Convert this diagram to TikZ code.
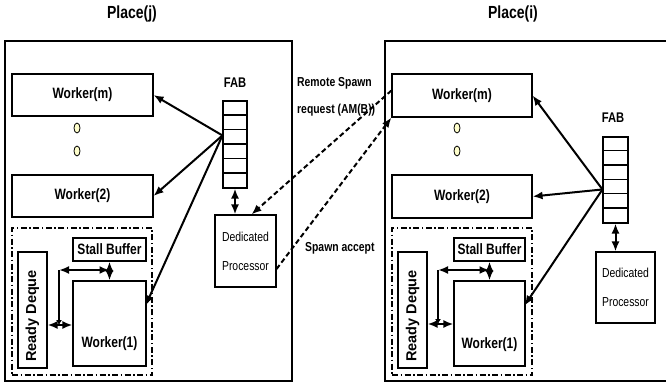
\documentclass[tikz,border=0pt]{standalone}
\usepackage{fontspec}
\setmainfont{Liberation Sans}
\newfontfamily\narrowsf[FakeStretch=0.8]{Liberation Sans}
\usepackage{tikz}
\usetikzlibrary{shapes,shapes.geometric,arrows.meta,positioning,calc}
\definecolor{dotfill}{RGB}{255,255,204}
\tikzset{
  % Place enclosure and its title
  placebox/.style={draw, rectangle, line width=1.1pt, inner sep=0pt},
  placelbl/.style={font=\narrowsf\bfseries\fontsize{17.5}{20}\selectfont, inner sep=0pt},
  % Worker boxes
  wbox/.style={draw, fill=white, rectangle, line width=1.1pt, inner sep=0pt,
               font=\narrowsf\bfseries\fontsize{15}{18}\selectfont},
  wtext/.style={font=\narrowsf\bfseries\fontsize{15}{18}\selectfont, inner sep=0pt},
  sbbox/.style={wbox},
  rdbox/.style={draw, fill=white, rectangle, line width=1.1pt, inner sep=0pt,
                font=\bfseries\fontsize{14.5}{17}\selectfont},
  % Worker pool: dash-dot enclosure
  pool/.style={draw, rectangle, line width=1.8pt, inner sep=0pt,
               dash pattern=on 6pt off 2.5pt on 1.5pt off 2.5pt},
  % FAB queue and dedicated processor
  fabbox/.style={draw, fill=white, rectangle, line width=1.1pt, inner sep=0pt},
  fabcell/.style={line width=1.3pt},
  fablbl/.style={font=\narrowsf\bfseries\fontsize{14}{16}\selectfont, inner sep=0pt},
  dpbox/.style={draw, fill=white, rectangle, line width=1.1pt, inner sep=0pt, align=center,
                font=\narrowsf\fontsize{13}{29}\selectfont},
  % Idle dots
  dotell/.style={draw, ellipse, fill=dotfill, minimum width=6pt, minimum height=10pt,
                 inner sep=0pt, line width=0.8pt},
  % Arrows
  flowarr/.style={-{Latex[length=10pt,width=8pt]}, line width=2pt},
  flowbi/.style={{Latex[length=10pt,width=8pt]}-{Latex[length=10pt,width=8pt]}, line width=2pt},
  flowsm/.style={-{Latex[length=5pt,width=6pt]}, line width=1.6pt},
  msgarr/.style={-{Latex[length=10pt,width=8pt]}, line width=2pt, dash pattern=on 5pt off 3pt},
  msglbl/.style={font=\narrowsf\bfseries\fontsize{13}{15}\selectfont, inner sep=0pt, anchor=west}
}

\begin{document}
\begin{tikzpicture}[x=1pt, y=-1pt]
\useasboundingbox (0,0) rectangle (666,388);

% ============== LEFT: PLACE(j) ==============
\node[placelbl] (jlbl) at (132,14) {Place(j)};
\node[placebox, minimum width=287pt, minimum height=340pt] (jplace) at (148.5,211) {};

\node[wbox, minimum width=141pt, minimum height=42pt] (jWm) at (82.5,95) {Worker(m)};
\node[dotell] (jdot1) at (77,128) {};
\node[dotell] (jdot2) at (77,151) {};
\node[wbox, minimum width=141pt, minimum height=42pt] (jW2) at (82.5,196) {Worker(2)};

\node[pool, minimum width=140pt, minimum height=147pt] (jpool) at (82,301.5) {};
\node[rdbox, minimum width=29pt, minimum height=116pt] (jrd) at (32.5,310) {\rotatebox{90}{Ready Deque\hspace{12pt}}};
\node[sbbox, minimum width=73pt, minimum height=23pt] (jsb) at (109.5,249.5) {Stall Buffer};
\node[wbox, minimum width=73pt, minimum height=85pt] (jW1) at (109.5,323.5) {};
\node[wtext] (jW1t) at ($(jW1.center)+(0,20)$) {Worker(1)};

\coordinate (jjn) at (59,270);
\coordinate (jjs) at (59,325);
\draw[flowbi] (jrd.east |- jjs) -- (jW1.west |- jjs);
\draw[flowsm] (jjn) -- (jjs);
\draw[flowbi] (jjn) -- (jsb.south |- jjn);
\draw[flowbi] (jsb.south) -- (jW1.north);

\node[fablbl] (jfablbl) at (235,83) {FAB};
\node[fabbox, minimum width=24pt, minimum height=87pt] (jfab) at (235,144.5) {};
\foreach \k in {1,...,5}
  \draw[fabcell] ($(jfab.north west)+(0,\k*14.5)$) -- ($(jfab.north east)+(0,\k*14.5)$);
\node[dpbox, minimum width=61pt, minimum height=72pt] (jdp) at (245.5,251) {Dedicated\\Processor};

\coordinate (jfp) at ($(jfab.north west)+(0,35)$);
\draw[flowarr] (jfp) -- (jWm.east);
\draw[flowarr] (jfp) -- (jW2.east);
\draw[flowarr] (jfp) -- ($(jW1.east)+(-1,-18)$);
\draw[flowbi] (jfab.south) -- (jfab.south |- jdp.north);

% ============== RIGHT: PLACE(i) ==============
\node[placelbl] (ilbl) at (513,14) {Place(i)};
\draw[placebox] (666,41) -| (385,381) -- (666,381);

\node[wbox, minimum width=140pt, minimum height=43pt] (iWm) at (462,95.5) {Worker(m)};
\node[dotell] (idot1) at (457,128) {};
\node[dotell] (idot2) at (457,151) {};
\node[wbox, minimum width=140pt, minimum height=43pt] (iW2) at (462,196.5) {Worker(2)};

\node[pool, minimum width=140pt, minimum height=147pt] (ipool) at (462,301.5) {};
\node[rdbox, minimum width=29pt, minimum height=116pt] (ird) at (412.5,310) {\rotatebox{90}{Ready Deque\hspace{12pt}}};
\node[sbbox, minimum width=71pt, minimum height=23pt] (isb) at (489.5,249.5) {Stall Buffer};
\node[wbox, minimum width=71pt, minimum height=85pt] (iW1) at (489.5,323.5) {};
\node[wtext] (iW1t) at ($(iW1.center)+(0,21)$) {Worker(1)};

\coordinate (ijn) at (438,270);
\coordinate (ijs) at (438,324);
\draw[flowbi] (ird.east |- ijs) -- (iW1.west |- ijs);
\draw[flowsm] (ijn) -- (ijs);
\draw[flowbi] (ijn) -- (isb.south |- ijn);
\draw[flowbi] (isb.south) -- (iW1.north);

\node[fablbl] (ifablbl) at (613,118) {FAB};
\node[fabbox, minimum width=25pt, minimum height=86pt] (ifab) at (615.5,180) {};
\foreach \k in {1,...,5}
  \draw[fabcell] ($(ifab.north west)+(0,\k*14.33)$) -- ($(ifab.north east)+(0,\k*14.33)$);
\node[dpbox, minimum width=59pt, minimum height=71pt] (idp) at (625.5,287.5) {Dedicated\\Processor};

\coordinate (ifp) at ($(ifab.north west)+(0,53)$);
\draw[flowarr] (ifp) -- (iWm.east);
\draw[flowarr] (ifp) -- (iW2.east);
\draw[flowarr] (ifp) -- ($(iW1.east)+(-1,-18)$);
\draw[flowbi] (ifab.south) -- (ifab.south |- idp.north);

% ============== Remote spawn messages ==============
\draw[msgarr] ($(iWm.west)+(0,-5)$) -- ($(jdp.north)+(6,0)$);
\draw[msgarr] ($(jdp.east)+(0,18)$) -- (iWm.south west);
\node[msglbl] (reqlbl1) at (297,83) {Remote Spawn};
\node[msglbl] (reqlbl2) at (297,110) {request (AM(B))};
\node[msglbl] (acclbl) at (305,248) {Spawn accept};

\end{tikzpicture}
\end{document}
